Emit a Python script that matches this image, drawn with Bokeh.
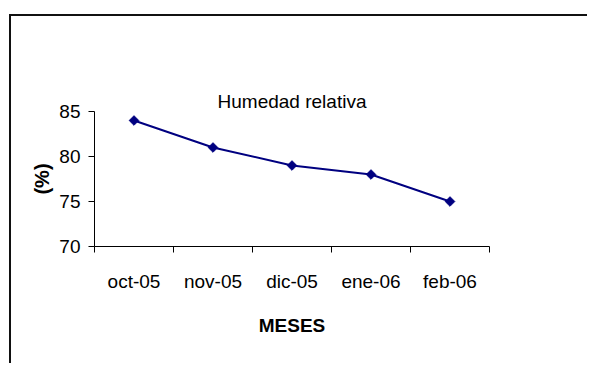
from bokeh.plotting import figure
from bokeh.models import FixedTicker, Range1d, ColumnDataSource, Title
from bokeh.embed import file_html
from bokeh.resources import INLINE
import math

months = ["oct-05", "nov-05", "dic-05", "ene-06", "feb-06"]
humidity = [84, 81, 79, 78, 75]
y_ticks = [70, 75, 80, 85]
title_text = "Humedad relativa"
x_title = "MESES"
y_title = "(%)"

FONT = "Liberation Sans"
NAVY = "#000080"

xs = [i + 0.5 for i in range(len(months))]
src = ColumnDataSource(dict(x=xs, y=humidity, m=months))

p = figure(width=578, height=349, output_backend="svg", toolbar_location=None,
           x_range=Range1d(0, len(months)), y_range=Range1d(70, 85),
           min_border_left=83, min_border_right=100, min_border_top=95,
           min_border_bottom=119, title=title_text)
p.styles = {"margin-left": "9px", "margin-top": "14px",
            "border-left": "2px solid #111", "border-top": "2px solid #111"}
p.outline_line_color = None
p.xgrid.visible = False
p.ygrid.visible = False
p.background_fill_color = "white"
p.border_fill_color = "white"

# visible chart title (placed outermost)
p.title.align = "center"
p.title.offset = -19
p.title.standoff = 0
p.title.text_font = FONT
p.title.text_font_size = "19px"
p.title.text_font_style = "normal"
p.title.text_color = "black"

# invisible spacer title, placed next to the plot area
spacer = Title(text=".", text_alpha=0, text_font=FONT, text_font_size="19px",
               standoff=39)
p.add_layout(spacer, "above")

p.line("x", "y", source=src, line_color=NAVY, line_width=2)
p.scatter("x", "y", source=src, marker="square", size=6.8, angle=math.pi / 4,
          fill_color=NAVY, line_color=NAVY)

# x axis: labels at category centres, tick marks at category boundaries
xa = p.xaxis[0]
xa.ticker = FixedTicker(ticks=xs, minor_ticks=list(range(len(months) + 1)))
xa.major_label_overrides = {x: m for x, m in zip(xs, months)}
xa.major_tick_out = 0
xa.major_tick_in = 0
xa.minor_tick_out = 6
xa.minor_tick_in = 0
xa.minor_tick_line_color = "black"
xa.axis_line_color = "black"
xa.major_label_standoff = 18
xa.major_label_text_font = FONT
xa.major_label_text_font_size = "19px"
xa.major_label_text_color = "black"
xa.axis_label = x_title
xa.axis_label_text_font = FONT
xa.axis_label_text_font_size = "19px"
xa.axis_label_text_font_style = "bold"
xa.axis_label_text_color = "black"
xa.axis_label_standoff = 20

ya = p.yaxis[0]
ya.ticker = FixedTicker(ticks=y_ticks)
ya.minor_tick_line_color = None
ya.major_tick_out = 6
ya.major_tick_in = 0
ya.axis_line_color = "black"
ya.major_tick_line_color = "black"
ya.major_label_standoff = 8
ya.major_label_text_font = FONT
ya.major_label_text_font_size = "19px"
ya.major_label_text_color = "black"
ya.axis_label = y_title
ya.axis_label_text_font = FONT
ya.axis_label_text_font_size = "20px"
ya.axis_label_text_font_style = "bold"
ya.axis_label_text_color = "black"
ya.axis_label_standoff = 3

open("out.html", "w").write(file_html(p, INLINE))
